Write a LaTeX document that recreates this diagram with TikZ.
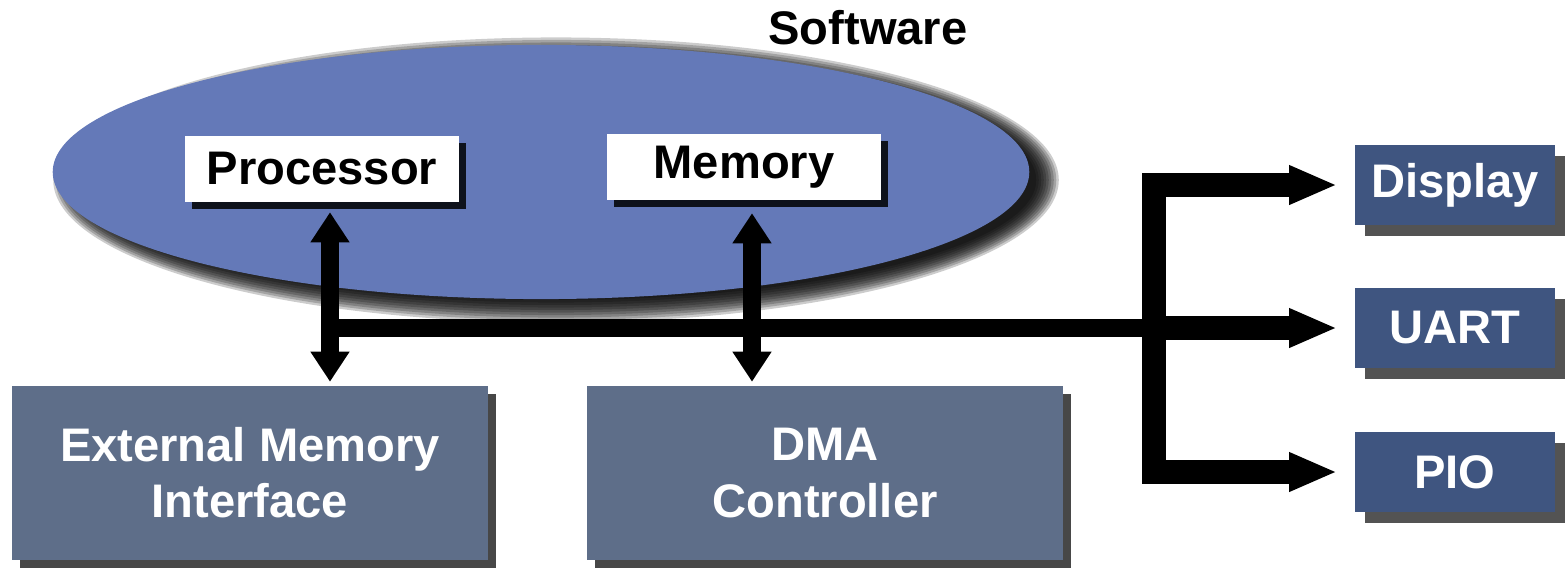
\documentclass[tikz,border=0pt]{standalone}
\usepackage{fontspec}
\setmainfont{Liberation Sans}
\usetikzlibrary{arrows.meta}
\usetikzlibrary{shadows}
\usetikzlibrary{shapes.geometric}
\definecolor{swblue}{RGB}{100,121,184}
\definecolor{hwgray}{RGB}{94,110,137}
\definecolor{iodark}{RGB}{63,85,128}

\begin{document}
\begin{tikzpicture}
      [x=0.01cm,y=-0.01cm,line join=miter,
       every node/.style={font=\fontsize{13.4}{16}\selectfont\bfseries},
       labelbox/.style={fill=white,minimum width=2.74cm,minimum height=0.65cm,inner sep=0pt,
         drop shadow={shadow xshift=0.07cm,shadow yshift=-0.07cm,fill=black,opacity=0.85}},
       hwbox/.style={fill=hwgray,text=white,minimum width=4.75cm,minimum height=1.73cm,align=center,inner sep=0pt,
         drop shadow={shadow xshift=0.08cm,shadow yshift=-0.08cm,fill=black!90,opacity=0.8}},
       iobox/.style={fill=iodark,text=white,minimum width=2cm,minimum height=0.8cm,inner sep=0pt,
         drop shadow={shadow xshift=0.1cm,shadow yshift=-0.11cm,fill=black!90,opacity=0.75}},
       biarrow/.style={line width=0.18cm,{Triangle[width=0.37cm,length=0.3cm]}-{Triangle[width=0.37cm,length=0.3cm]}},
       bus/.style={line width=0.18cm},
       branch/.style={line width=0.24cm},
       iotip/.tip={Triangle[width=0.36cm,length=0.48cm]}]

\useasboundingbox (0,0) rectangle (1568,569);

%software part
%soft shadow of the ellipse, built from layers
  \coordinate (swc) at (541,172);
  \foreach \g in {0,...,9}
    \fill[black,opacity=0.2] ([xshift=0.15cm,yshift=-0.08cm]swc) ellipse [x radius={4.8cm+0.025cm*\g},y radius={1.2cm+0.025cm*\g}];
  \node[ellipse,fill=swblue,minimum width=9.76cm,minimum height=2.54cm,inner sep=0pt] (sw) at (swc) {};
  \node (swlabel) at (868,28) {Software};
  \node[labelbox] (proc) at (322,169) {Processor};
  \node[labelbox] (mem) at (744,167) {Memory};

%hardware blocks
  \node[hwbox] (emi) at (250,473) {External Memory\\Interface};
  \node[hwbox] (dma) at (825,473) {DMA\\Controller};
  \node[iobox] (disp) at (1455,185) {Display};
  \node[iobox] (uart) at (1455,328) {UART};
  \node[iobox] (pio) at (1455,472) {PIO};

%bus and arrows
  \coordinate (pa) at ([xshift=0.08cm]proc.south);
  \coordinate (ma) at ([xshift=0.08cm]mem.south);
  \coordinate (jn) at ([xshift=-2cm]uart.west);

  \draw[biarrow,shorten <=0.1cm,shorten >=0.04cm] (pa) -- (pa |- emi.north);
  \draw[biarrow,shorten <=0.13cm,shorten >=0.04cm] (ma) -- (ma |- dma.north);
  \draw[bus] (pa |- uart.west) -- (jn);

  \draw[branch,iotip-iotip] ([xshift=-0.17cm]disp.west) -- (jn |- disp.west) -- (jn |- pio.west) -- ([xshift=-0.17cm]pio.west);
  \draw[branch,-iotip] (jn) -- ([xshift=-0.17cm]uart.west);

\end{tikzpicture}
\end{document}
